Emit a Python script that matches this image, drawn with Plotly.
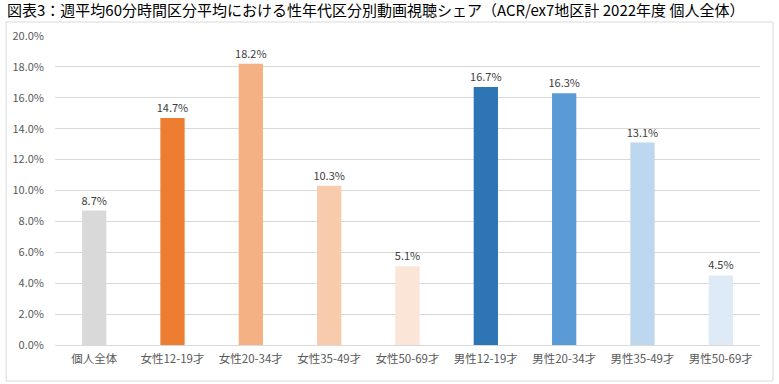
import plotly.graph_objects as go

categories = ["個人全体", "女性12-19才", "女性20-34才", "女性35-49才", "女性50-69才",
              "男性12-19才", "男性20-34才", "男性35-49才", "男性50-69才"]
values = [8.7, 14.7, 18.2, 10.3, 5.1, 16.7, 16.3, 13.1, 4.5]
colors = ["#D9D9D9", "#ED7D31", "#F4B183", "#F8CBAD", "#FBE5D6",
          "#2E75B6", "#5B9BD5", "#BDD7EE", "#DEEBF7"]
y_ticks = [0, 2, 4, 6, 8, 10, 12, 14, 16, 18, 20]
title = "図表3：週平均60分時間区分平均における性年代区分別動画視聴シェア（ACR/ex7地区計 2022年度 個人全体）"

font = "Noto Sans CJK JP"

fig = go.Figure(go.Bar(
    x=categories, y=values,
    marker=dict(color=colors, line=dict(width=0)),
    text=[f"{v:.1f}%" for v in values],
    textposition="outside",
    constraintext="none",
    textfont=dict(family=font, size=11, color="#404040"),
    cliponaxis=False,
))

W, H = 779, 384
L, R, T, B = 52, 19, 36, 39
pw, ph = W - L - R, H - T - B

def px(x):
    return (x - L) / pw

def py(y):
    return (H - B - y) / ph

fig.update_layout(
    width=W, height=H,
    margin=dict(l=L, r=R, t=T, b=B),
    paper_bgcolor="white", plot_bgcolor="white",
    bargap=0.69,
    showlegend=False,
    font=dict(family=font, color="#595959", size=11),
    xaxis=dict(showgrid=False, showline=True, linecolor="#D9D9D9", linewidth=1,
               ticks="", tickfont=dict(size=11.5, color="#595959"), ticklabelstandoff=3),
    yaxis=dict(range=[0, 20], tickvals=y_ticks, ticktext=[f"{v:.1f}%" for v in y_ticks],
               showgrid=True, gridcolor="#D9D9D9", gridwidth=1, zeroline=False,
               ticks="", tickfont=dict(size=11, color="#595959"), ticklabelstandoff=10),
    shapes=[dict(type="rect", xref="paper", yref="paper",
                 x0=px(3), x1=px(773), y0=py(381), y1=py(22),
                 line=dict(color="#D9D9D9", width=1), fillcolor="rgba(0,0,0,0)", layer="below")],
    annotations=[dict(text=title, xref="paper", yref="paper", x=px(2), y=py(10),
                      xanchor="left", yanchor="middle", showarrow=False,
                      font=dict(family=font, size=15, color="#000000"))],
)

fig.write_html("out.html", config={"displayModeBar": False},
               post_script="document.body.style.margin='0';")
